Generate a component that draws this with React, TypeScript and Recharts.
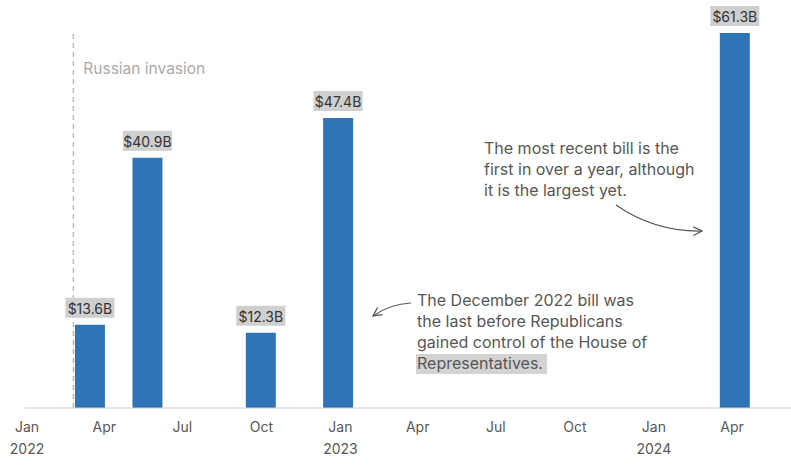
import { BarChart, Bar, XAxis, YAxis, ReferenceLine, LabelList } from 'recharts';

// aid bills, signed dates
const billDates = ['2022-03-15', '2022-05-21', '2022-09-30', '2022-12-29', '2024-04-04'];
const billValues = [13.6, 40.9, 12.3, 47.4, 61.3];
const billLabels = ['$13.6B', '$40.9B', '$12.3B', '$47.4B', '$61.3B'];

const tickDates = [
  '2022-01-01', '2022-04-01', '2022-07-01', '2022-10-01',
  '2023-01-01', '2023-04-01', '2023-07-01', '2023-10-01',
  '2024-01-01', '2024-04-01',
];
const tickMonths = ['Jan', 'Apr', 'Jul', 'Oct', 'Jan', 'Apr', 'Jul', 'Oct', 'Jan', 'Apr'];
const tickYears = ['2022', '', '', '', '2023', '', '', '', '2024', ''];

const invasionDate = '2022-02-24';

const ORIGIN = Date.UTC(2022, 0, 1);
function dayOf(iso: string) {
  const [y, m, d] = iso.split('-').map(Number);
  return (Date.UTC(y, m - 1, d) - ORIGIN) / 86400000;
}

const data = billDates.map((d, i) => ({
  day: dayOf(d),
  value: billValues[i],
  label: billLabels[i],
}));
const tickDays = tickDates.map(dayOf);

const FONT = 'Inter, sans-serif';
const BLUE = '#2e74b7';
const TEXT = '#575757';

function QuarterTick({ x, y, payload, index }: any) {
  const i = tickDays.indexOf(payload.value);
  const idx = i >= 0 ? i : index;
  return (
    <g>
      <text x={x} y={y + 22} textAnchor="middle" fontSize={14} fill={TEXT} fontFamily={FONT}>
        {tickMonths[idx]}
      </text>
      {tickYears[idx] && (
        <text x={x} y={y + 44} textAnchor="middle" fontSize={14} fill={TEXT} fontFamily={FONT}>
          {tickYears[idx]}
        </text>
      )}
    </g>
  );
}

function ValueLabel({ x, y, width, value }: any) {
  const cx = x + width / 2;
  const w = 49;
  return (
    <g>
      <rect x={cx - w / 2} y={y - 27} width={w} height={20} fill="#cfcfcf" />
      <text x={cx} y={y - 11} textAnchor="middle" fontSize={14} fill="#333" fontFamily={FONT}>
        {value}
      </text>
    </g>
  );
}

function InvasionLabel({ viewBox }: any) {
  return (
    <text x={viewBox.x + 10} y={74} fontSize={15.5} fill="#aaa" fontFamily={FONT}>
      Russian invasion
    </text>
  );
}

export default function App() {
  return (
    <div style={{ position: 'absolute', left: 0, top: 0, width: 791, height: 465, background: '#fff' }}>
      <BarChart
        width={791}
        height={465}
        data={data}
        margin={{ top: 33, right: 0, left: 25, bottom: 0 }}
      >
        <XAxis
          dataKey="day"
          type="number"
          domain={[-2.33, 889.7]}
          allowDataOverflow
          ticks={tickDays}
          interval={0}
          tick={<QuarterTick />}
          tickLine={false}
          tickSize={0}
          height={57}
          axisLine={{ stroke: '#cccccc' }}
        />
        <YAxis hide domain={[0, 61.3]} allowDataOverflow />
        <ReferenceLine
          x={dayOf(invasionDate)}
          stroke="#bbbbbb"
          strokeDasharray="5 4"
          strokeWidth={1.5}
          label={<InvasionLabel />}
        />
        <Bar dataKey="value" fill={BLUE} barSize={30} isAnimationActive={false}>
          <LabelList dataKey="label" content={<ValueLabel />} />
        </Bar>
      </BarChart>
      <svg
        width={791}
        height={465}
        style={{ position: 'absolute', left: 0, top: 0, pointerEvents: 'none' }}
      >
        <defs>
          <marker id="head" viewBox="0 0 10 10" refX="9" refY="5" markerWidth="9" markerHeight="9" orient="auto">
            <path d="M1,1 L9,5 L1,9" fill="none" stroke={TEXT} strokeWidth={1.2} />
          </marker>
        </defs>
        <rect x={416} y={354} width={131} height={20} fill="#d3d3d3" />
        <text fontSize={16} fill={TEXT} fontFamily={FONT}>
          <tspan x={417} y={306}>The December 2022 bill was</tspan>
          <tspan x={417} y={327}>the last before Republicans</tspan>
          <tspan x={417} y={348}>gained control of the House of</tspan>
          <tspan x={417} y={369}>Representatives.</tspan>
        </text>
        <path d="M411,303 Q390,304 373,316" fill="none" stroke={TEXT} strokeWidth={1.2} markerEnd="url(#head)" />
        <text fontSize={16} fill={TEXT} fontFamily={FONT}>
          <tspan x={484} y={153.5}>The most recent bill is the</tspan>
          <tspan x={484} y={174.5}>first in over a year, although</tspan>
          <tspan x={484} y={195.5}>it is the largest yet.</tspan>
        </text>
        <path d="M616,205 Q655,232 702,231" fill="none" stroke={TEXT} strokeWidth={1.2} markerEnd="url(#head)" />
      </svg>
    </div>
  );
}
